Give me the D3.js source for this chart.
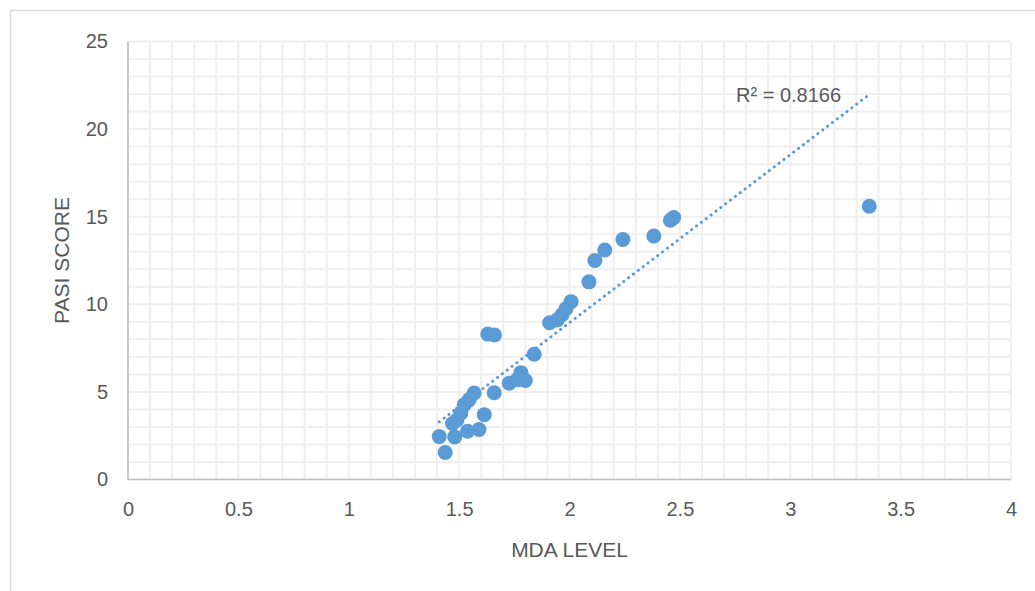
<!DOCTYPE html>
<html>
<head>
<meta charset="utf-8">
<script src="https://cdn.jsdelivr.net/npm/d3@7"></script>
<style>
  html, body { margin: 0; padding: 0; background: #fff; }
  svg { display: block; }
  text { font-family: "Liberation Sans", Arial, sans-serif; fill: #595959; }
</style>
</head>
<body>
<script>
// ---- Data ----
const mdaLevel = [1.41, 1.437, 1.48, 1.47, 1.49, 1.508, 1.523, 1.546, 1.568, 1.538, 1.59, 1.614, 1.659,
  1.63, 1.66, 1.727, 1.764, 1.78, 1.80, 1.84, 1.91, 1.944, 1.966, 1.984, 2.007, 2.088, 2.115, 2.16,
  2.242, 2.382, 2.457, 2.472, 3.358];
const pasiScore = [2.45, 1.54, 2.43, 3.2, 3.4, 3.8, 4.27, 4.56, 4.94, 2.75, 2.85, 3.7, 4.95,
  8.3, 8.25, 5.5, 5.7, 6.1, 5.65, 7.15, 8.95, 9.1, 9.4, 9.75, 10.15, 11.28, 12.5, 13.1,
  13.7, 13.9, 14.8, 14.95, 15.6];
const xTicks = [0, 0.5, 1, 1.5, 2, 2.5, 3, 3.5, 4];
const yTicks = [0, 5, 10, 15, 20, 25];
const trendSlope = 9.59;
const trendIntercept = -10.23;
const rSquaredLabel = "R² = 0.8166";
const xTitle = "MDA LEVEL";
const yTitle = "PASI SCORE";

// ---- Layout ----
const W = 1035, H = 591;
const svg = d3.select("body").append("svg").attr("width", W).attr("height", H);

// outer chart border
svg.append("path")
  .attr("d", `M10.5,${H} L10.5,10.5 L${W},10.5`)
  .attr("fill", "none").attr("stroke", "#d9d9d9").attr("stroke-width", 1.5);

const x = d3.scaleLinear().domain([0, 4]).range([128, 1011]);
const y = d3.scaleLinear().domain([0, 25]).range([479.5, 41.5]);

// gridlines (minor: 0.1 on x, 1 on y)
const gx = d3.range(0, 4.0001, 0.1);
const gy = d3.range(0, 25.0001, 1);
const grid = svg.append("g");
grid.selectAll("line.vx").data(gx).join("line")
  .attr("x1", d => x(d)).attr("x2", d => x(d))
  .attr("y1", y(0)).attr("y2", y(25))
  .attr("stroke", "#efefef").attr("stroke-width", 2);
grid.selectAll("line.hy").data(gy).join("line")
  .attr("x1", x(0)).attr("x2", x(4))
  .attr("y1", d => y(d)).attr("y2", d => y(d))
  .attr("stroke", "#efefef").attr("stroke-width", 2);

// axes lines
svg.append("line").attr("x1", x(0)).attr("x2", x(0)).attr("y1", y(0)).attr("y2", y(25))
  .attr("stroke", "#bfbfbf").attr("stroke-width", 1.5);
svg.append("line").attr("x1", x(0)).attr("x2", x(4)).attr("y1", y(0)).attr("y2", y(0))
  .attr("stroke", "#bfbfbf").attr("stroke-width", 1.5);

// Axes via d3 (labels only)
const xAxis = svg.append("g").attr("transform", `translate(0,${y(0)})`)
  .call(d3.axisBottom(x).tickValues(xTicks).tickSize(0).tickPadding(22).tickFormat(d => String(d)));
const yAxis = svg.append("g").attr("transform", `translate(${x(0)},0)`)
  .call(d3.axisLeft(y).tickValues(yTicks).tickSize(0).tickPadding(20).tickFormat(d => String(d)));
[xAxis, yAxis].forEach(g => {
  g.select(".domain").remove();
  g.selectAll("text").attr("font-size", 20).attr("fill", "#595959")
    .attr("font-family", "Liberation Sans, Arial, sans-serif");
});

// axis titles
svg.append("text").attr("x", x(2)).attr("y", 557).attr("text-anchor", "middle")
  .attr("font-size", 21).text(xTitle);
svg.append("text").attr("transform", `translate(69,${y(12.5)}) rotate(-90)`)
  .attr("text-anchor", "middle").attr("font-size", 21).text(yTitle);

// trendline
const xMin = d3.min(mdaLevel), xMax = d3.max(mdaLevel);
svg.append("line")
  .attr("x1", x(xMin)).attr("y1", y(trendSlope * xMin + trendIntercept))
  .attr("x2", x(xMax)).attr("y2", y(trendSlope * xMax + trendIntercept))
  .attr("stroke", "#5b9bd5").attr("stroke-width", 3)
  .attr("stroke-linecap", "round").attr("stroke-dasharray", "0.1 6");

// points
const pts = mdaLevel.map((d, i) => [d, pasiScore[i]]);
svg.append("g").selectAll("circle").data(pts).join("circle")
  .attr("cx", d => x(d[0])).attr("cy", d => y(d[1])).attr("r", 7.5)
  .attr("fill", "#5b9bd5");

// R² label
svg.append("text").attr("x", 736).attr("y", 102).attr("font-size", 20).text(rSquaredLabel);
</script>
</body>
</html>
